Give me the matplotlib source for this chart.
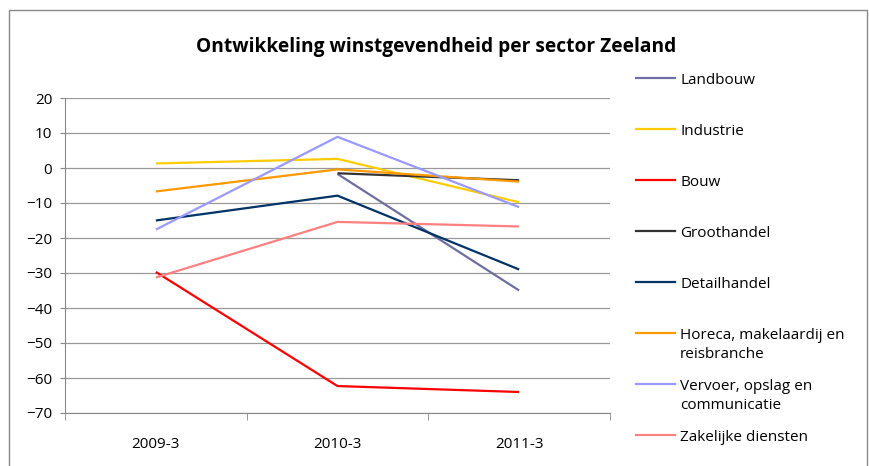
import numpy as np
import matplotlib
matplotlib.use("Agg")
import matplotlib.pyplot as plt
from matplotlib.lines import Line2D
from matplotlib.patches import Rectangle

plt.rcParams['font.family'] = ['Open Sans', 'DejaVu Sans']

periods = ["2009-3", "2010-3", "2011-3"]
landbouw = [np.nan, -1.7, -35.0]
industrie = [1.3, 2.6, -9.8]
bouw = [-29.7, -62.3, -64.0]
groothandel = [np.nan, -1.5, -3.5]
detailhandel = [-15.0, -7.9, -29.0]
horeca = [-6.7, -0.4, -3.9]
vervoer = [-17.6, 8.9, -11.2]
zakelijk = [-31.3, -15.4, -16.7]

series = [
    ("Landbouw", landbouw, "#6E6EA0"),
    ("Industrie", industrie, "#FFCC00"),
    ("Bouw", bouw, "#FF0000"),
    ("Groothandel", groothandel, "#333333"),
    ("Detailhandel", detailhandel, "#003366"),
    ("Horeca, makelaardij en\nreisbranche", horeca, "#FF9900"),
    ("Vervoer, opslag en\ncommunicatie", vervoer, "#9999FF"),
    ("Zakelijke diensten", zakelijk, "#FF8080"),
]

W, H = 870, 466
fig = plt.figure(figsize=(W/100, H/100), dpi=100)
ax = fig.add_axes([65/W, 1-413/H, (610-65)/W, (413-98)/H])

x = np.arange(len(periods))
for name, vals, col in series:
    ax.plot(x, vals, color=col, lw=1.6, solid_capstyle='butt')

ax.set_xlim(-0.5, 2.5)
ax.set_ylim(-70, 20)
ax.set_yticks(np.arange(-70, 21, 10))
ax.set_xticks(x)
ax.set_xticklabels(periods)
ax.set_xticks([-0.5, 0.5, 1.5, 2.5], minor=True)
ax.tick_params(axis='x', which='major', length=0, pad=17, labelsize=11)
ax.tick_params(axis='x', which='minor', length=5, color='#888888', direction='out')
ax.tick_params(axis='y', length=3.6, color='#888888', labelsize=11, pad=5.5)
ax.grid(axis='y', color='#999999', lw=0.9)
ax.set_axisbelow(True)
for s in ['top', 'right']:
    ax.spines[s].set_visible(False)
for s in ['left', 'bottom']:
    ax.spines[s].set_color('#888888')

fig.text(436/W, 1-47/H, "Ontwikkeling winstgevendheid per sector Zeeland",
         ha='center', va='center', fontsize=13.8, fontweight='bold')

# legend drawn by hand to match the spacing
for i, (name, vals, col) in enumerate(series):
    ly = 78 + 51*i
    yy = 1 - ly/H
    fig.add_artist(Line2D([636/W, 675/W], [yy, yy], color=col, lw=1.6))
    for k, part in enumerate(name.split("\n")):
        fig.text(680/W, 1-(ly + 6 + 19*k)/H, part, ha='left', va='baseline',
                 fontsize=11)

fig.add_artist(Rectangle((9/W, -0.01), (867-9)/W, 1.01-10/H, fill=False,
                         edgecolor='#888888', lw=1, transform=fig.transFigure))

fig.savefig("out.png", dpi=100)
